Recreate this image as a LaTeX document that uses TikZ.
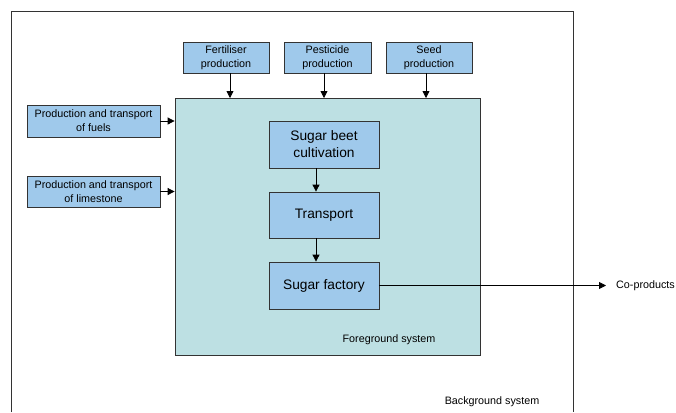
\documentclass[tikz,border=0pt]{standalone}
\usepackage{fontspec}
\setmainfont{Liberation Sans}
\usetikzlibrary{arrows.meta}
\definecolor{boxblue}{HTML}{9FC9EB}
\definecolor{fgfill}{HTML}{BDE0E3}
\definecolor{edge}{HTML}{333333}
\tikzset{
  smallbox/.style={draw=edge, fill=boxblue, line width=0.8bp, inner sep=0pt, align=center,
    font=\fontsize{10.8}{14}\selectfont},
  bigbox/.style={draw=edge, fill=boxblue, line width=0.8bp, inner sep=0pt, align=center,
    font=\fontsize{13.8}{17}\selectfont, minimum width=110bp},
  flow/.style={-{Triangle[length=7bp,width=7bp]}, line width=0.8bp, black},
  lbl/.style={font=\fontsize{10.8}{12}\selectfont, inner sep=0pt}
}
\begin{document}
\begin{tikzpicture}[x=1bp,y=-1bp]
\useasboundingbox (0,0) rectangle (676,412);
% background system border (open at the bottom)
\draw[edge, line width=0.8bp] (11,412) -- (11,11) -- (573,11) -- (573,412);
\node[lbl] (bglabel) at (492,402) {Background system};
% foreground system
\node[draw=edge, fill=fgfill, line width=0.8bp, minimum width=305bp, minimum height=257bp, inner sep=0pt] (fg) at (327.5,226.5) {};
\node[lbl] (fglabel) at (389,340) {Foreground system};
% top boxes
\node[smallbox, minimum width=86bp, minimum height=31bp] (fert) at (226,57.5) {Fertiliser\\production};
\node[smallbox, minimum width=87bp, minimum height=31bp] (pest) at (327.5,57.5) {Pesticide\\production};
\node[smallbox, minimum width=86bp, minimum height=31bp] (seed) at (429,57.5) {Seed\\production};
% left boxes
\node[smallbox, minimum width=133bp, minimum height=32bp] (fuel) at (93.5,121) {Production and transport\\of fuels};
\node[smallbox, minimum width=133bp, minimum height=31bp] (lime) at (93.5,191.5) {Production and transport\\of limestone};
% inner boxes
\node[bigbox, minimum height=47bp] (beet) at (324,144.5) {Sugar beet\\cultivation};
\node[bigbox, minimum height=46bp] (trans) at (324,215) {Transport};
\node[bigbox, minimum height=47bp] (fact) at (324,285.5) {Sugar factory};
% co-products
\coordinate (coend) at (606,285.5);
\node[lbl, anchor=west] (co) at (616,285.5) {Co-products};
% arrows
\draw[flow] (fert.south -| 230,0) -- (230,98);
\draw[flow] (pest.south -| 324,0) -- (324,98);
\draw[flow] (seed.south -| 426,0) -- (426,98);
\draw[flow] (fuel.east) -- (fuel.east -| fg.west);
\draw[flow] (lime.east) -- (lime.east -| fg.west);
\draw[flow] (beet.south -| 316,0) -- (trans.north -| 316,0);
\draw[flow] (trans.south -| 316,0) -- (fact.north -| 316,0);
\draw[flow] (fact.east) -- (coend);
\end{tikzpicture}
\end{document}
